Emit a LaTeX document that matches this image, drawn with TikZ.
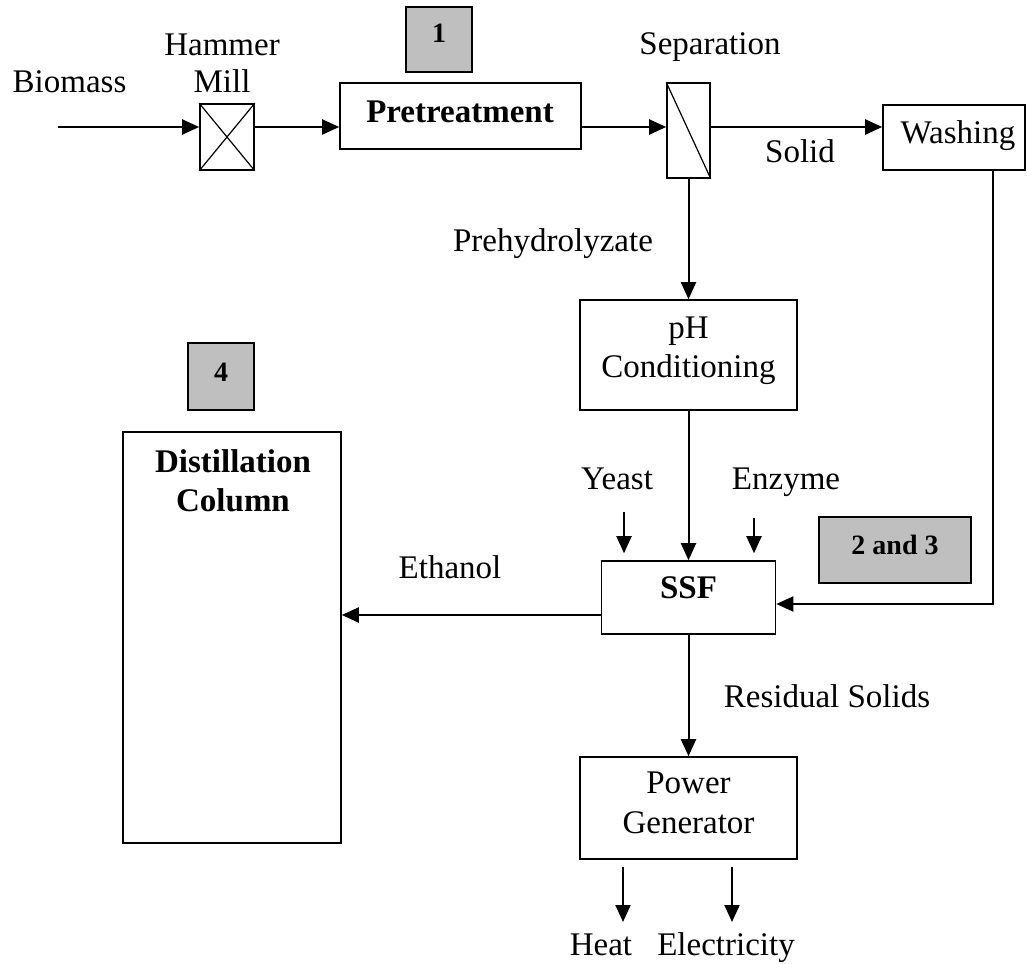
\documentclass[tikz,border=0pt]{standalone}
\usepackage{fontspec}
\setmainfont{Liberation Serif}
\usetikzlibrary{arrows.meta,calc}
\begin{document}
\begin{tikzpicture}[x=1pt,y=-1pt,
  txt/.style={font=\fontsize{33}{39}\selectfont, inner sep=0pt, anchor=base},
  btxt/.style={txt, font=\fontsize{33}{39}\selectfont\bfseries},
  ntxt/.style={txt, font=\fontsize{28}{34}\selectfont\bfseries},
  box/.style={draw, line width=1.6pt, inner sep=0pt},
  gbox/.style={box, fill=gray!50},
  arr/.style={line width=2pt, -{Triangle[length=17pt,width=15pt]}},
  cross/.style={line width=1.2pt}]
\useasboundingbox (0,0) rectangle (1027,963);

% boxes
\node[box, minimum width=54pt, minimum height=66pt] (mill) at (227,137) {};
\node[box, minimum width=241pt, minimum height=66pt] (pre) at (460.5,116) {};
\node[gbox, minimum width=66pt, minimum height=65pt] (one) at (439,39.5) {};
\node[box, minimum width=43pt, minimum height=95pt] (sep) at (688.5,130.5) {};
\node[box, minimum width=142pt, minimum height=65pt] (wash) at (954,137.5) {};
\node[box, minimum width=217pt, minimum height=110pt] (ph) at (688.5,355) {};
\node[gbox, minimum width=66pt, minimum height=67pt] (four) at (221,376.5) {};
\node[box, minimum width=218pt, minimum height=411pt] (dist) at (232,637.5) {};
\node[gbox, minimum width=152pt, minimum height=66pt] (two) at (895,550) {};
\node[box, minimum width=174pt, minimum height=73pt] (ssf) at (688.5,597.5) {};
\node[box, minimum width=217pt, minimum height=102pt] (pow) at (688.5,808) {};

\draw[cross] (mill.north west) -- (mill.south east) (mill.north east) -- (mill.south west);
\draw[cross] (sep.north west) -- (sep.south east);

% texts
\node[txt] (biomass) at (69.5,93) {Biomass};
\node[txt] (hammer) at (222,56) {Hammer};
\node[txt] (milltxt) at (222,93) {Mill};
\node[btxt] (pretxt) at (460,123) {Pretreatment};
\node[ntxt] (onetxt) at (439,43) {1};
\node[txt] (septxt) at (710,55) {Separation};
\node[txt] (solid) at (800,162) {Solid};
\node[txt] (washtxt) at (958,143) {Washing};
\node[txt] (prehyd) at (553,251) {Prehydrolyzate};
\node[txt] (phtxt1) at (688.5,338) {pH};
\node[txt] (phtxt2) at (688.5,377) {Conditioning};
\node[ntxt] (fourtxt) at (221,381) {4};
\node[btxt] (disttxt1) at (233,472) {Distillation};
\node[btxt] (disttxt2) at (233,511) {Column};
\node[txt] (yeast) at (617,489) {Yeast};
\node[txt] (enzyme) at (786,489) {Enzyme};
\node[ntxt] (twotxt) at (895,554) {2 and 3};
\node[txt] (ethanol) at (450,578) {Ethanol};
\node[btxt] (ssftxt) at (688.5,598) {SSF};
\node[txt] (resid) at (827,707) {Residual Solids};
\node[txt] (powtxt1) at (688.5,793) {Power};
\node[txt] (powtxt2) at (688.5,833) {Generator};
\node[txt] (heat) at (601,955) {Heat};
\node[txt] (elec) at (726,955) {Electricity};

% connectors
\coordinate (bin) at (58,127);
\draw[arr] (bin) -- (bin -| mill.west);
\draw[arr] (bin -| mill.east) -- (bin -| pre.west);
\draw[arr] (bin -| pre.east) -- (bin -| sep.west);
\draw[arr] (bin -| sep.east) -- (bin -| wash.west);
\draw[arr] (sep.south) -- (ph.north);
\draw[arr] (ph.south) -- (ssf.north);
\coordinate (ya) at (624,512);
\coordinate (za) at (754,518);
\draw[arr] (ya) -- ($(ssf.north -| ya)+(0,-7)$);
\draw[arr] (za) -- ($(ssf.north -| za)+(0,-7)$);
\coordinate (wd) at (993,604);
\draw[arr] (wash.south -| wd) -- (wd) -- (wd -| ssf.east);
\coordinate (ey) at (470,615);
\draw[arr] (ey -| ssf.west) -- (ey -| dist.east);
\draw[arr] (ssf.south) -- (pow.north);
\coordinate (ha) at (623,922);
\coordinate (ea) at (732,922);
\draw[arr] ($(pow.south -| ha)+(0,7)$) -- (ha);
\draw[arr] ($(pow.south -| ea)+(0,7)$) -- (ea);
\end{tikzpicture}
\end{document}
